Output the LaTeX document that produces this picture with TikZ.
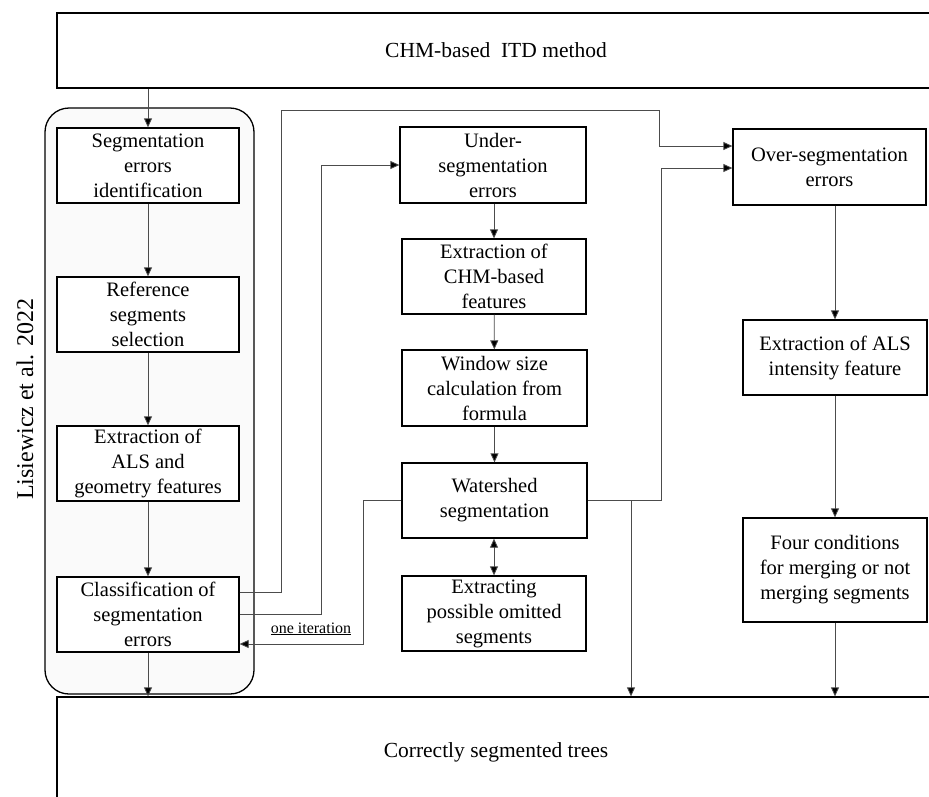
\documentclass[tikz,border=0pt]{standalone}
\usepackage{fontspec}
\setmainfont{Liberation Serif}
\usetikzlibrary{arrows.meta}
\begin{document}
\begin{tikzpicture}[x=1pt,y=-1pt,
  box/.style={draw=black, line width=1.3pt, fill=white, align=center, inner sep=0pt,
    font=\fontsize{20.5}{25}\selectfont},
  bigbox/.style={box, font=\fontsize{21.5}{25}\selectfont},
  container/.style={draw=black, line width=1.3pt, fill=black!2, rounded corners=24pt, inner sep=0pt},
  conn/.style={draw=black!70, line width=0.8pt},
  arr/.style={conn, -{Triangle[length=9pt,width=8pt,fill=black]}},
  darr/.style={conn, {Triangle[length=9pt,width=8pt,fill=black]}-{Triangle[length=9pt,width=8pt,fill=black]}},
  lbl/.style={font=\fontsize{20.5}{25}\selectfont, inner sep=0pt}
]
\useasboundingbox (0,0) rectangle (929,796);
\clip (0,0) rectangle (929,796);
\fill[white] (0,0) rectangle (929,796);

% group container
\node[container, minimum width=209pt, minimum height=586pt] (group) at (149.5,401) {};
\node[lbl, rotate=90, font=\fontsize{24}{28}\selectfont] (author) at (25,399) {Lisiewicz et al. 2022};

% top and bottom boxes
\node[bigbox, minimum width=878pt, minimum height=75pt] (top) at (496,50.5) {CHM-based\ \ ITD method};
\node[bigbox, minimum width=878pt, minimum height=110pt] (bottom) at (496,752) {Correctly segmented trees};

% left column
\node[box, minimum width=182pt, minimum height=75pt] (segid) at (148,165.5) {Segmentation\\errors\\identification};
\node[box, minimum width=182pt, minimum height=75pt] (refsel) at (148,314.5) {Reference\\segments\\selection};
\node[box, minimum width=182pt, minimum height=75pt] (extr) at (148,463.5) {Extraction of\\ALS and\\geometry features};
\node[box, minimum width=182pt, minimum height=75pt] (classif) at (148,614.5) {Classification of\\segmentation\\errors};

% middle column
\node[box, minimum width=186pt, minimum height=76pt] (under) at (493,165) {Under-\\segmentation\\errors};
\node[box, minimum width=184pt, minimum height=75pt] (chm) at (494,276.5) {Extraction of\\CHM-based\\features};
\node[box, minimum width=185pt, minimum height=76pt] (window) at (494.5,388) {Window size\\calculation from\\formula};
\node[box, minimum width=185pt, minimum height=75pt] (water) at (494.5,500.5) {Watershed\\segmentation};
\node[box, minimum width=184pt, minimum height=75pt] (omit) at (494,613.5) {Extracting\\possible omitted\\segments};

% right column
\node[box, minimum width=193pt, minimum height=76pt] (over) at (829.5,167) {Over-segmentation\\errors};
\node[box, minimum width=184pt, minimum height=75pt] (als) at (835,357.5) {Extraction of ALS\\intensity feature};
\node[box, minimum width=184pt, minimum height=104pt] (four) at (835,570) {Four conditions\\for merging or not\\merging segments};

% bend coordinates
\coordinate (b1) at (281,110);
\coordinate (b2) at (659,146);
\coordinate (b3) at (321,165);
\coordinate (b4) at (363,644);
\coordinate (b5) at (661,168);
\coordinate (b6) at (631,0);

% connectors
\draw[arr] (top.south -| segid.north) -- (segid.north);
\draw[arr] (segid) -- (refsel);
\draw[arr] (refsel) -- (extr);
\draw[arr] (extr) -- (classif);
\draw[arr] (classif.south) -- (classif.south |- bottom.north);

\draw[arr] ([yshift=22.5pt]classif.east) -| (b1) -| (b2) -- ([yshift=21pt]over.west);
\draw[arr] (classif.east) -| (b3) -- (under.west);
\draw[arr] (water.west) -| (b4) -- ([yshift=-29.5pt]classif.east);
\node[lbl, font=\fontsize{16}{18}\selectfont, anchor=base] (iter) at (311,633) {\underline{one iteration}};

\draw[arr] (under.south -| chm.north) -- (chm.north);
\draw[arr] (chm) -- (window);
\draw[arr] (window) -- (water);
\draw[darr] (water.south -| omit.north) -- (omit.north);

\draw[arr] (water.east) -| (b5) -- (over.west |- b5);
\draw[arr] (water.east -| b6) -- (bottom.north -| b6);

\draw[arr] (over.south -| als.north) -- (als.north);
\draw[arr] (als) -- (four);
\draw[arr] (four.south) -- (four.south |- bottom.north);
\end{tikzpicture}
\end{document}
